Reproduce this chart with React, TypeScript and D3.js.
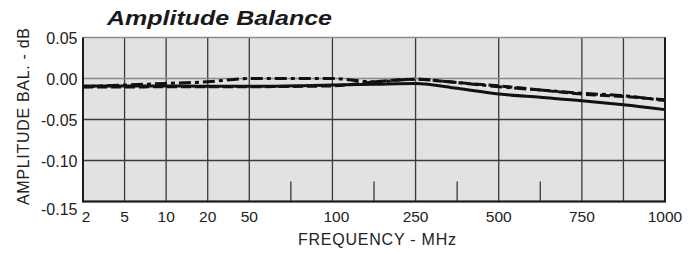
import React from "react";
import * as d3 from "d3";

const freqLabels = ["2", "5", "10", "20", "50", "100", "250", "500", "750", "1000"];
const labelFreqs = [2, 5, 10, 20, 50, 100, 250, 500, 750, 1000];
const labelSlots = [0, 1, 2, 3, 4, 6, 8, 10, 12, 14];
const fullGridSlots = [0, 1, 2, 3, 4, 6, 8, 10, 12, 13, 14];
const shortTickSlots = [5, 7, 9, 11];
const yTicks = [0.05, 0.0, -0.05, -0.1, -0.15];
const yTickLabels = ["0.05", "0.00", "-0.05", "-0.10", "-0.15"];

const dataFreqs = [2, 5, 10, 20, 50, 100, 175, 250, 375, 500, 625, 750, 875, 1000];
const solidSeries = [-0.009, -0.009, -0.009, -0.0095, -0.0095, -0.008, -0.007, -0.006, -0.012, -0.019, -0.023, -0.027, -0.032, -0.038];
const dashedSeries = [-0.0105, -0.0105, -0.010, -0.010, -0.010, -0.009, -0.004, -0.001, -0.005, -0.009, -0.014, -0.019, -0.022, -0.026];
const dashDotSeries = [-0.010, -0.008, -0.006, -0.004, 0.0, 0.0, -0.004, -0.001, -0.005, -0.010, -0.014, -0.018, -0.021, -0.027];

const W = 699;
const H = 254;
const left = 83;
const right = 665;
const top = 37.5;
const bottom = 201.5;

export default function App() {
  const slotX = d3.scaleLinear().domain([0, 14]).range([left, right]);
  const freqToSlot = d3.scaleLinear().domain(labelFreqs).range(labelSlots);
  const x = (f: number) => slotX(freqToSlot(f));
  const y = d3.scaleLinear().domain([-0.15, 0.05]).range([bottom, top]);

  const mk = (vals: number[]) =>
    d3
      .line<number>()
      .x((_, i) => x(dataFreqs[i]))
      .y((v) => y(v))
      .curve(d3.curveMonotoneX)(vals) || "";

  const font = "'Liberation Sans', Arial, Helvetica, sans-serif";

  return (
    <svg
      width={W}
      height={H}
      style={{ position: "absolute", left: 0, top: 0, background: "#fff" }}
      fontFamily={font}
    >
      <rect x={left} y={top} width={right - left} height={bottom - top} fill="#e1e2e4" />
      {fullGridSlots.map((s) => (
        <line key={"v" + s} x1={slotX(s)} x2={slotX(s)} y1={top} y2={bottom} stroke="#3a3a3a" strokeWidth={1.3} />
      ))}
      {shortTickSlots.map((s) => (
        <line key={"st" + s} x1={slotX(s)} x2={slotX(s)} y1={bottom - 20} y2={bottom} stroke="#3a3a3a" strokeWidth={1.3} />
      ))}
      {yTicks.map((t) => (
        <line
          key={"h" + t}
          x1={left}
          x2={right}
          y1={y(t)}
          y2={y(t)}
          stroke={t === 0 || t === 0.05 ? "#8a8a8a" : "#3a3a3a"}
          strokeWidth={t === 0.05 ? 1.6 : 1.3}
        />
      ))}
      <line x1={left} x2={left} y1={top} y2={bottom + 1} stroke="#1a1a1a" strokeWidth={2} />
      <line x1={left} x2={right + 1} y1={bottom} y2={bottom} stroke="#1a1a1a" strokeWidth={2} />
      <line x1={right} x2={right} y1={top} y2={bottom} stroke="#1a1a1a" strokeWidth={2} />

      <path d={mk(solidSeries)} fill="none" stroke="#111" strokeWidth={3} />
      <path d={mk(dashedSeries)} fill="none" stroke="#111" strokeWidth={3} strokeDasharray="10,4" />
      <path d={mk(dashDotSeries)} fill="none" stroke="#111" strokeWidth={3} strokeDasharray="12,4,4,4" />

      {yTicks.map((t, i) => (
        <text
          key={"yl" + t}
          x={77.5}
          y={y(t) + (i === yTicks.length - 1 ? 13.5 : 6)}
          textAnchor="end"
          fontSize={16}
          fill="#222"
        >
          {yTickLabels[i]}
        </text>
      ))}
      {freqLabels.map((l, i) => (
        <text
          key={"xl" + l}
          x={slotX(labelSlots[i]) + (i === 0 ? 3 : i === 5 ? 4 : 0)}
          y={222}
          textAnchor="middle"
          fontSize={15.5}
          fill="#222"
        >
          {l}
        </text>
      ))}
      <text x={298} y={245} fontSize={16} fill="#222" textLength={158} lengthAdjust="spacing">
        FREQUENCY - MHz
      </text>
      <text
        transform="translate(28.5,116.5) rotate(-90)"
        textAnchor="middle"
        fontSize={16}
        fill="#222"
        textLength={177}
        lengthAdjust="spacing"
      >
        AMPLITUDE BAL. - dB
      </text>
      <text
        x={107}
        y={25}
        fontSize={21}
        fontWeight="bold"
        fontStyle="italic"
        fill="#1a1a1a"
        textLength={225}
        lengthAdjust="spacingAndGlyphs"
      >
        Amplitude Balance
      </text>
    </svg>
  );
}
